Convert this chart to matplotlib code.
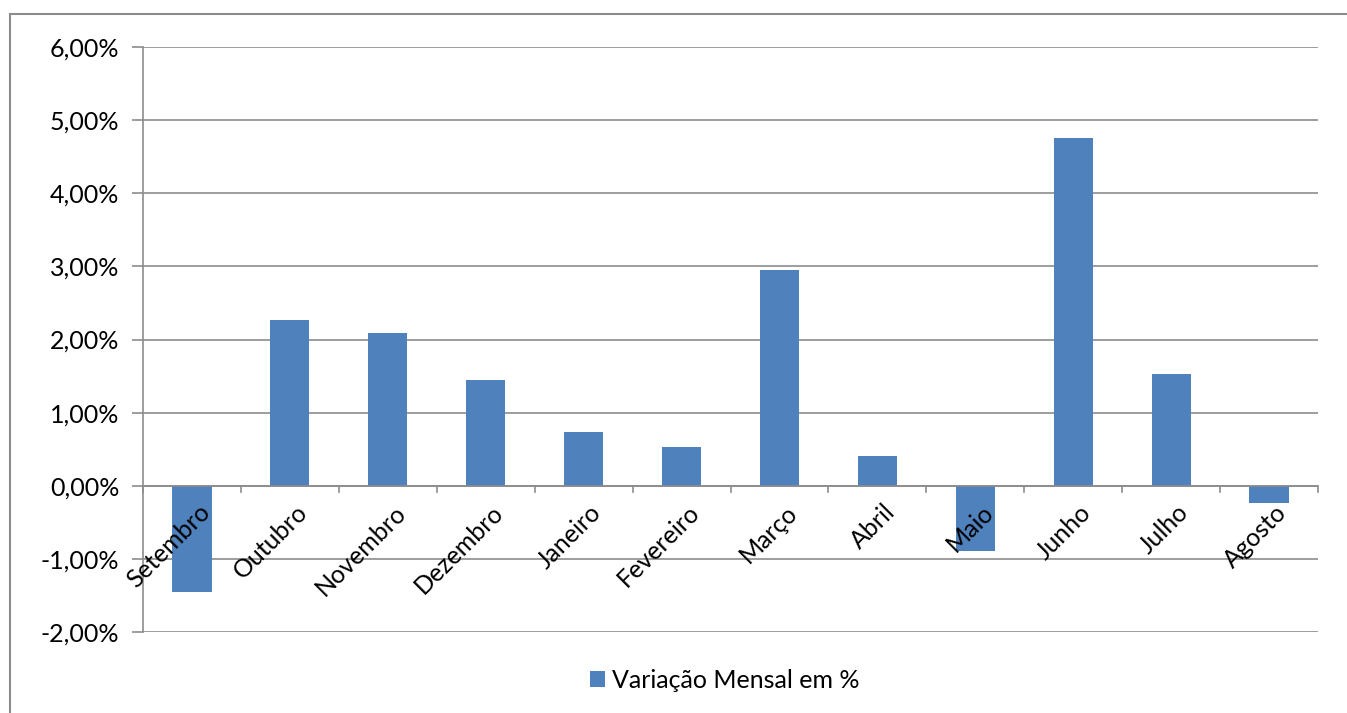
import matplotlib
matplotlib.use("Agg")
import matplotlib.pyplot as plt
from matplotlib.patches import Rectangle
from matplotlib.ticker import FuncFormatter, MultipleLocator

categories = ["Setembro", "Outubro", "Novembro", "Dezembro", "Janeiro", "Fevereiro",
              "Março", "Abril", "Maio", "Junho", "Julho", "Agosto"]
values = [-1.45, 2.27, 2.09, 1.45, 0.74, 0.53, 2.95, 0.41, -0.89, 4.75, 1.53, -0.23]
series_name = "Variação Mensal em %"

plt.rcParams['font.family'] = ['Lato', 'DejaVu Sans']
W, H = 1347, 713
fig = plt.figure(figsize=(W / 100, H / 100), dpi=100)

# outer chart frame (clipped at right/bottom)
fig.patches.append(Rectangle((10 / W, -0.05), 1.2, (H - 14) / H + 0.05,
                             transform=fig.transFigure, fill=False,
                             edgecolor='#8c8c8c', linewidth=1.5))

left, right, top, bottom = 143, 1318, 47, 632
ax = fig.add_axes([left / W, 1 - bottom / H, (right - left) / W, (bottom - top) / H])

x = list(range(len(categories)))
ax.bar(x, values, width=0.4, color='#4F81BD', zorder=3, label=series_name)

ax.set_xlim(-0.5, len(categories) - 0.5)
ax.set_ylim(-2, 6)
ax.yaxis.set_major_locator(MultipleLocator(1))
ax.yaxis.set_major_formatter(FuncFormatter(lambda v, p: f"{v:.2f}%".replace('.', ',')))
ax.grid(axis='y', color='#8c8c8c', linewidth=1.2, zorder=0)

for s in ['top', 'right', 'bottom']:
    ax.spines[s].set_visible(False)
ax.spines['left'].set_color('#8c8c8c')
ax.spines['left'].set_linewidth(1.2)

ax.tick_params(axis='y', length=8, color='#8c8c8c', width=1.2, labelsize=18, pad=9)
ax.set_xticks([])

# zero axis line with category boundary ticks
ax.axhline(0, color='#8c8c8c', linewidth=1.2, zorder=4)
for b in range(len(categories) + 1):
    ax.plot([b - 0.5, b - 0.5], [0, -0.08], color='#8c8c8c', linewidth=1.2,
            zorder=4, clip_on=False)

for i, c in enumerate(categories):
    ax.text(i + 0.06, -0.2, c, rotation=45, ha='right', va='top',
            rotation_mode='anchor', fontsize=18, zorder=5)

leg = ax.legend(loc='upper center', bbox_to_anchor=(0.495, -0.025), frameon=False,
                fontsize=18, handlelength=0.6, handleheight=0.6, handletextpad=0.3)

fig.savefig("out.png", dpi=100)
